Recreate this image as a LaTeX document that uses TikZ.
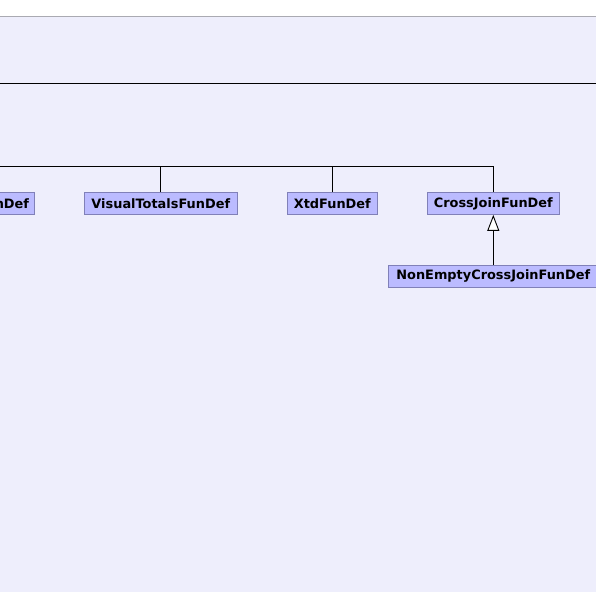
\documentclass[tikz,border=0pt]{standalone}
\usepackage{fontspec}
\setmainfont{DejaVu Sans}
\usetikzlibrary{arrows.meta,positioning}
\definecolor{canvas}{RGB}{238,238,252}
\definecolor{classfill}{RGB}{187,187,255}
\definecolor{classline}{RGB}{128,128,184}
\definecolor{rim}{RGB}{170,170,178}
\tikzset{
 cls/.style={draw=classline, fill=classfill, line width=.9pt, minimum height=22pt,
             inner xsep=5pt, inner ysep=0pt, font=\bfseries\fontsize{12.9}{14}\selectfont},
 link/.style={draw=black, line width=.9pt},
 inherit/.style={-{Triangle[length=16pt,width=12pt,fill=white,line width=.9pt]}, draw=black, line width=.9pt}
}
\begin{document}
\begin{tikzpicture}[x=1pt,y=-1pt]
\useasboundingbox (0,0) rectangle (596,592);
\fill[canvas] (0,17) rectangle (596,592);
\draw[rim, line width=1.2pt] (0,16.6) -- (596,16.6);

\coordinate (topl) at (0,83);
\coordinate (topr) at (596,83);
\coordinate (hubl) at (0,166);

\node[cls, anchor=east, text width=72pt, align=right] (partial) at (34.5,203.4) {nDef};
\node[cls, minimum width=153pt] (visual) at (160.8,203.4) {VisualTotalsFunDef};
\node[cls, minimum width=90pt] (xtd) at (332.3,203.4) {XtdFunDef};
\node[cls, minimum width=132pt] (crossjoin) at (493.3,203.4) {CrossJoinFunDef};
\node[cls, minimum width=210pt, below=50pt of crossjoin] (nonempty) {NonEmptyCrossJoinFunDef};

\draw[link] (topl) -- (topr);
\draw[link] (hubl) -| (crossjoin.north);
\draw[link] (visual.north) -- (visual.north |- hubl);
\draw[link] (xtd.north) -- (xtd.north |- hubl);
\draw[inherit] (nonempty) -- (crossjoin);

\end{tikzpicture}
\end{document}
